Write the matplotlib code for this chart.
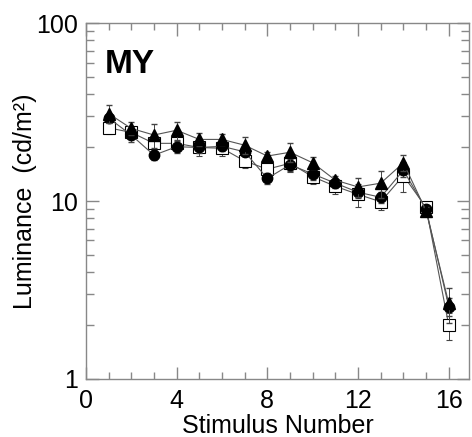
import numpy as np
import matplotlib.pyplot as plt
from matplotlib.ticker import FixedLocator, NullFormatter, LogLocator

stim = np.arange(1, 17)
tri = [31.0, 25.6, 23.5, 25.0, 22.2, 22.2, 20.6, 17.9, 18.8, 16.4, 13.1, 12.0, 12.6, 16.4, 8.8, 2.66]
circ = [29.3, 23.5, 18.1, 20.2, 20.0, 20.3, 18.9, 13.4, 16.0, 14.2, 12.6, 11.2, 10.5, 14.9, 9.0, 2.55]
sq = [25.8, 24.3, 21.1, 21.1, 20.0, 19.8, 16.8, 15.1, 16.3, 13.7, 12.1, 10.9, 9.9, 13.9, 9.2, 2.0]
tri_err = [3.5, 2.2, 3.6, 2.9, 1.8, 1.5, 2.3, 1.0, 2.3, 1.3, 0.8, 1.4, 2.2, 1.7, 0.5, 0.6]
circ_err = [1.5, 2.0, 1.2, 1.5, 1.3, 1.2, 1.0, 1.0, 1.2, 1.0, 0.8, 0.8, 0.8, 1.2, 0.4, 0.3]
sq_err = [2.0, 2.0, 2.0, 2.0, 2.0, 2.0, 1.5, 1.5, 1.7, 1.2, 1.2, 1.6, 1.0, 2.6, 0.5, 0.35]

plt.rcParams['font.family'] = ['Liberation Sans', 'DejaVu Sans']

fig = plt.figure(figsize=(4.72, 4.37), dpi=100)
ax = fig.add_axes([0.182, 0.133, 0.812, 0.814])

lc = '#555555'
ax.errorbar(stim, sq, yerr=sq_err, fmt='s-', color=lc, lw=0.8, ms=8, mfc='white',
            mec='black', mew=0.8, ecolor='#444444', elinewidth=0.7, capsize=2.5, zorder=3)
ax.errorbar(stim, circ, yerr=circ_err, fmt='o-', color=lc, lw=0.8, ms=7.5, mfc='black',
            mec='black', ecolor='#444444', elinewidth=0.7, capsize=2.5, zorder=4)
ax.errorbar(stim, tri, yerr=tri_err, fmt='^-', color=lc, lw=0.8, ms=9, mfc='black',
            mec='black', ecolor='#444444', elinewidth=0.7, capsize=2.5, zorder=5)

ax.set_yscale('log')
ax.set_ylim(1, 100)
ax.set_xlim(0, 16.9)
ax.set_xticks([0, 4, 8, 12, 16])
ax.xaxis.set_minor_locator(FixedLocator(range(0, 17)))
ax.yaxis.set_minor_locator(LogLocator(base=10, subs=np.arange(2, 10)))
ax.yaxis.set_minor_formatter(NullFormatter())
ax.set_yticks([1, 10, 100])
ax.set_yticklabels(['1', '10', '100'])

for s in ax.spines.values():
    s.set_color('#888888')
    s.set_linewidth(1.0)
ax.tick_params(which='both', direction='in', top=True, right=True, color='#888888',
               labelsize=18)
ax.tick_params(axis='x', pad=7)
ax.tick_params(axis='y', pad=6)
ax.tick_params(which='major', length=9, width=1.0)
ax.tick_params(which='minor', length=6, width=1.0)
ax.tick_params(axis='x', which='minor', length=5)

ax.set_xlabel('Stimulus Number', fontsize=18, labelpad=1)
ax.set_ylabel('Luminance  (cd/m²)', fontsize=18, labelpad=-1)
ax.text(0.05, 0.86, 'MY', transform=ax.transAxes, fontsize=24, fontweight='bold',
        va='baseline', ha='left')

fig.savefig('out.png', dpi=100)
